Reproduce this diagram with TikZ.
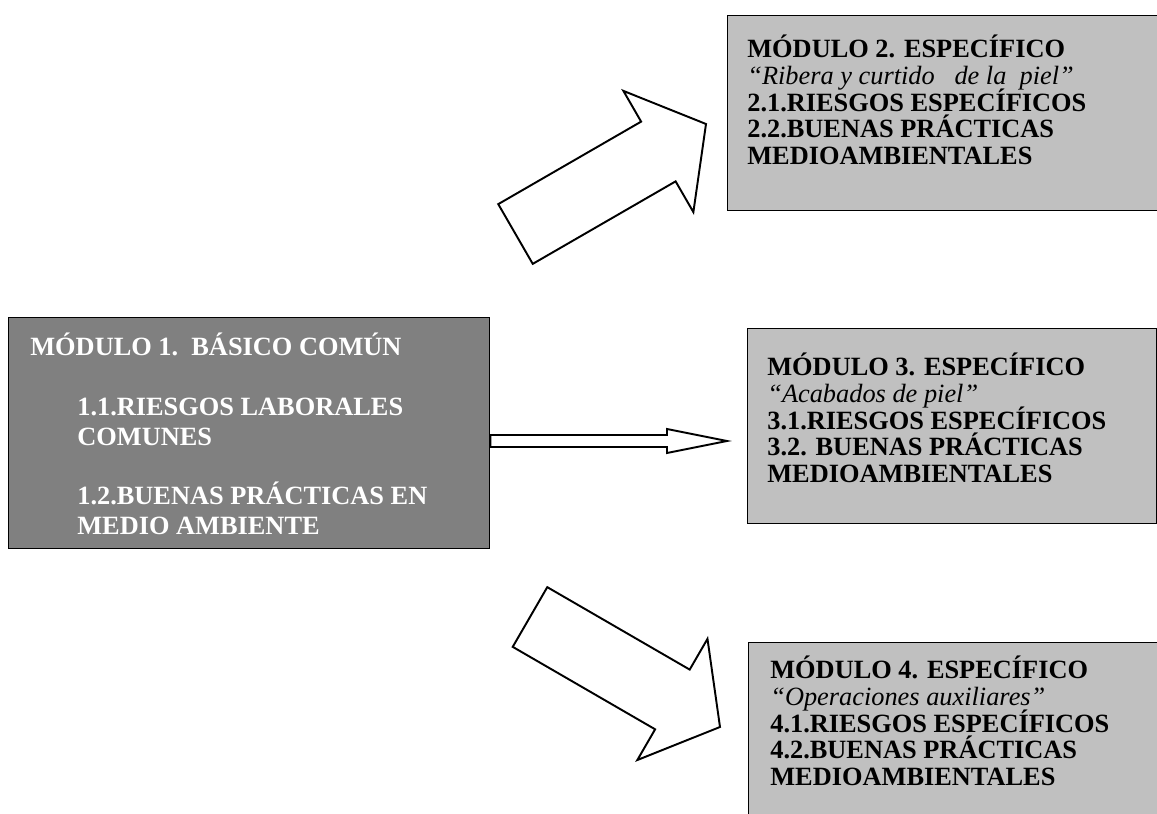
\documentclass[tikz,border=0pt]{standalone}
\usepackage{fontspec}
\setmainfont{Liberation Serif}
\usetikzlibrary{calc,positioning}
\tikzset{>=stealth}
\definecolor{darkfill}{HTML}{808080}
\definecolor{lightfill}{HTML}{C0C0C0}
\newcommand{\tightlines}{\lineskiplimit=-\maxdimen}
% block arrow: tail, tip, half shaft, half head, head length
\newcommand{\blockarrow}[5]{%
  \coordinate (#2base) at ($(#2)!#5!(#1)$);
  \draw[bigarrow] ($(#1)!#3!90:(#2)$) -- ($(#1)!#3!-90:(#2)$)
    -- ($(#2base)!#3!-90:(#2)$) -- ($(#2base)!#4!-90:(#2)$) -- (#2)
    -- ($(#2base)!#4!90:(#2)$) -- ($(#2base)!#3!90:(#2)$) -- cycle;
}

\begin{document}
\begin{tikzpicture}[x=0.02cm, y=-0.02cm,
                    darkbox/.style={draw=black, line width=0.8pt, fill=darkfill, anchor=north west, inner sep=0pt},
                    lightbox/.style={draw=black, line width=0.8pt, fill=lightfill, anchor=north west, inner sep=0pt},
                    boxtext/.style={anchor=north west, align=left, inner sep=0pt,
                                    font=\fontsize{15}{15.1}\selectfont\bfseries\tightlines},
                    darktext/.style={anchor=north west, align=left, inner sep=0pt, text=white,
                                     font=\fontsize{15}{17.1}\selectfont\bfseries\tightlines},
                    bigarrow/.style={draw=black, fill=white, line width=1.1pt, line join=miter},
                   ]

\clip (0,0) rectangle (1157,814);
\fill[white] (0,0) rectangle (1157,814);

% boxes
\node[darkbox, minimum width=9.62cm, minimum height=4.62cm] (m1) at (8,317) {};
\node[lightbox, minimum width=8.86cm, minimum height=3.9cm] (m2) at (727,15) {};
\node[lightbox, minimum width=8.18cm, minimum height=3.9cm] (m3) at (747,328) {};
\node[lightbox, minimum width=8.44cm, minimum height=3.9cm] (m4) at (748,642) {};

% texts
\node[darktext] (m1title) at ($(m1.north west)+(22,16)$) {MÓDULO 1.\ \ BÁSICO COMÚN};
\node[darktext] (m1items) at ($(m1.north west)+(69,81)$)
  {1.1.RIESGOS LABORALES\\ COMUNES\\[16pt] 1.2.BUENAS PRÁCTICAS EN\\ MEDIO AMBIENTE};

\node[boxtext] (m2text) at ($(m2.north west)+(20,20)$)
  {MÓDULO 2. ESPECÍFICO\\ {\mdseries\itshape “Ribera y curtido\ \ \ de la\ \ piel”}\\
   2.1.RIESGOS ESPECÍFICOS\\ 2.2.BUENAS PRÁCTICAS\\ MEDIOAMBIENTALES};
\node[boxtext] (m3text) at ($(m3.north west)+(20,25)$)
  {MÓDULO 3. ESPECÍFICO\\ {\mdseries\itshape “Acabados de piel”}\\
   3.1.RIESGOS ESPECÍFICOS\\ 3.2. BUENAS PRÁCTICAS\\ MEDIOAMBIENTALES};
\node[boxtext] (m4text) at ($(m4.north west)+(22,14)$)
  {MÓDULO 4. ESPECÍFICO\\ {\mdseries\itshape “Operaciones auxiliares”}\\
   4.1.RIESGOS ESPECÍFICOS\\ 4.2.BUENAS PRÁCTICAS\\ MEDIOAMBIENTALES};

% arrows
\coordinate (a1tail) at (515.5,234);
\coordinate (a1tip) at (706,124);
\coordinate (a2tip) at (727,441);
\coordinate (a2tail) at (m1.east |- a2tip);
\coordinate (a3tail) at (530,617);
\coordinate (a3tip) at (720,727);

\blockarrow{a1tail}{a1tip}{0.69cm}{1.4cm}{1.1cm}
\blockarrow{a2tail}{a2tip}{0.12cm}{0.24cm}{1.2cm}
\blockarrow{a3tail}{a3tip}{0.69cm}{1.4cm}{1.1cm}

\end{tikzpicture}
\end{document}
